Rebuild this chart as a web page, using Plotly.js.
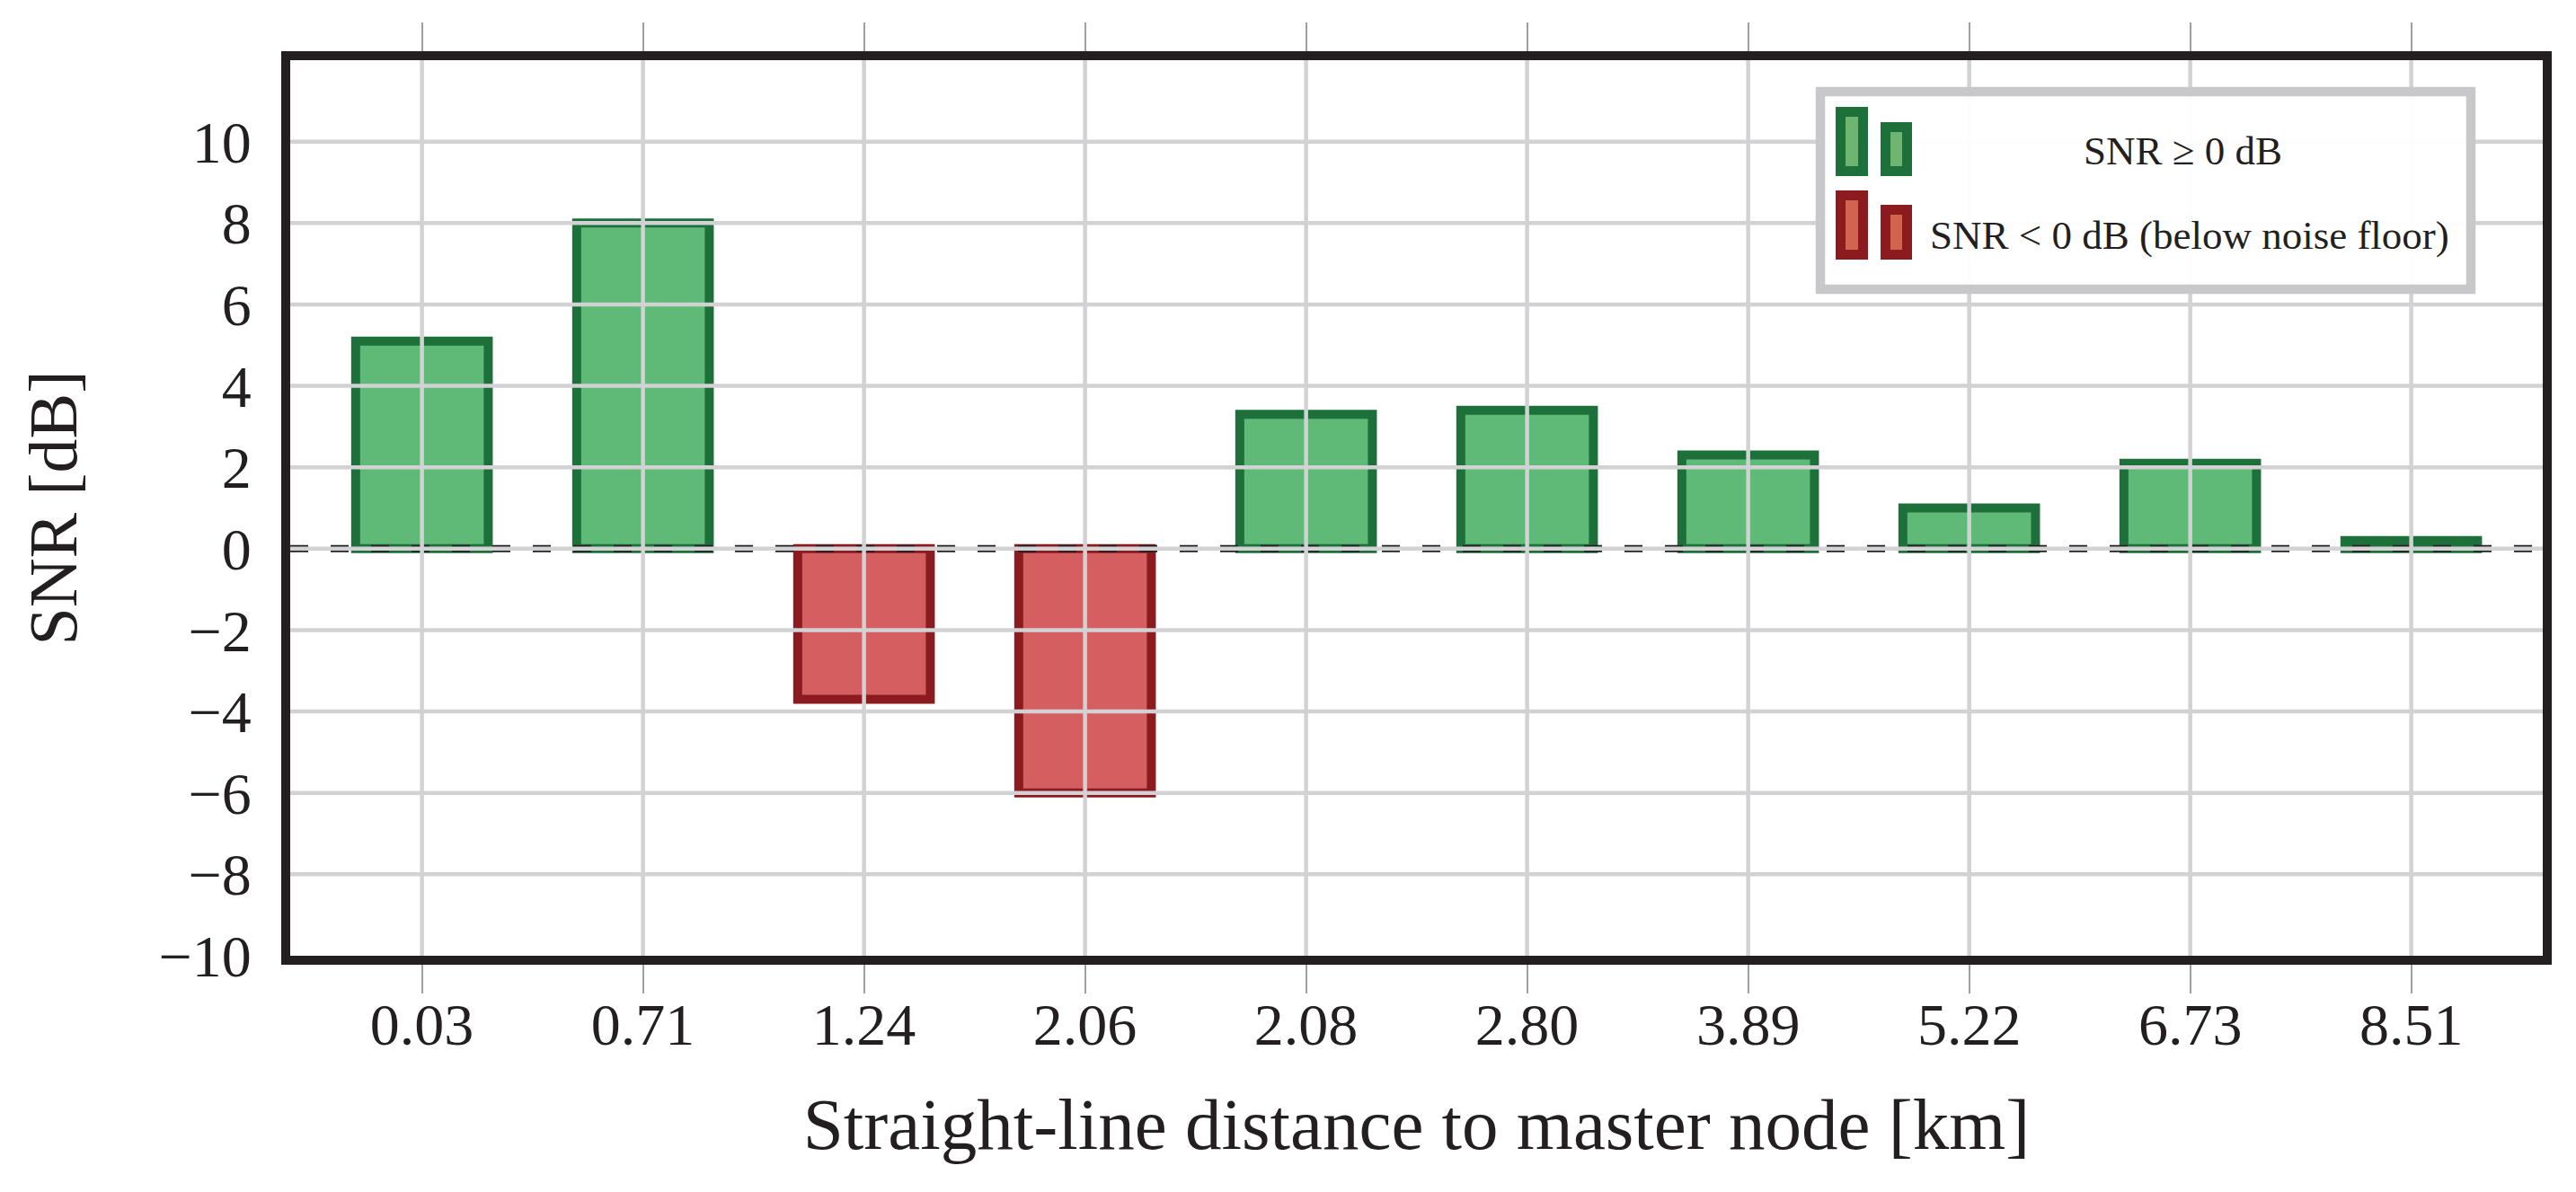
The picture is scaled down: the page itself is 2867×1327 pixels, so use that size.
<!DOCTYPE html>
<html>
<head>
<meta charset="utf-8">
<script src="https://cdn.plot.ly/plotly-3.0.1.min.js"></script>
<style>
  body { margin: 0; background: white; }
  #myChart { width: 2867px; height: 1327px; }
</style>
</head>
<body>
<div id="myChart"></div>
<script>
// distances to master node (km) and measured SNR (dB)
var distances = ['0.03', '0.71', '1.24', '2.06', '2.08', '2.80', '3.89', '5.22', '6.73', '8.51'];
var snr = [5.1, 8.0, -3.7, -6.0, 3.3, 3.4, 2.3, 1.0, 2.1, 0.2];
var yTicks = [-10, -8, -6, -4, -2, 0, 2, 4, 6, 8, 10];
var legendLabels = ['SNR \u2265 0 dB', 'SNR < 0 dB (below noise floor)'];

var W = 2867, H = 1327;
var mar = {l: 323, r: 37, t: 67, b: 263};
var plotW = W - mar.l - mar.r;
var plotH = H - mar.t - mar.b;

var green = '#5eba76', greenEdge = '#1d703a';
var red = '#d55e60', redEdge = '#8c1b20';
var ink = '#231f20';
var gridCol = '#d2d2d4';

// pixel -> paper helpers (for the hand made legend)
function px(x) { return (x - mar.l) / plotW; }
function py(y) { return (H - mar.b - y) / plotH; }

var fills = [], edges = [];
for (var i = 0; i < snr.length; i++) {
    if (snr[i] >= 0) { fills.push(green); edges.push(greenEdge); }
    else { fills.push(red); edges.push(redEdge); }
}

var bars = {
    x: distances,
    y: snr,
    type: 'bar',
    width: 0.6,
    marker: {color: fills, line: {color: edges, width: 10}},
    hoverinfo: 'x+y',
    showlegend: false
};

var shapes = [];
// dashed zero line, under the grid
shapes.push({type: 'line', xref: 'paper', yref: 'y', x0: 0, x1: 1, y0: 0, y1: 0,
    layer: 'above', line: {color: '#222222', width: 8, dash: '20px,25px'}});
// grid is drawn over the bars like in the original
for (var i = 0; i < distances.length; i++) {
    shapes.push({type: 'line', xref: 'x', yref: 'paper', x0: i, x1: i, y0: 0, y1: 1,
        layer: 'above', line: {color: gridCol, width: 4.5}});
}
for (var j = 0; j < yTicks.length; j++) {
    if (yTicks[j] <= -10) continue;
    shapes.push({type: 'line', xref: 'paper', yref: 'y', x0: 0, x1: 1, y0: yTicks[j], y1: yTicks[j],
        layer: 'above', line: {color: gridCol, width: 4.5}});
}

// legend box
function rectPx(x0, y0, x1, y1, fill, edge, lw) {
    return {type: 'rect', xref: 'paper', yref: 'paper', layer: 'above',
        x0: px(x0), x1: px(x1), y0: py(y1), y1: py(y0),
        fillcolor: fill, line: {color: edge, width: lw}};
}
shapes.push(rectPx(2026, 102, 2750, 322, 'rgba(255,255,255,0.95)', '#c8c8cb', 10.5));
shapes.push(rectPx(2048.5, 124.5, 2073.5, 190.5, '#6db570', greenEdge, 11));
shapes.push(rectPx(2098.5, 141.5, 2122.5, 190.5, '#6db570', greenEdge, 11));
shapes.push(rectPx(2048.5, 217.5, 2073.5, 283.5, '#d2644f', redEdge, 11));
shapes.push(rectPx(2098.5, 233.5, 2122.5, 283.5, '#d2644f', redEdge, 11));

var annotations = [
    {xref: 'paper', yref: 'paper', x: px(2429), y: py(168), text: legendLabels[0],
     showarrow: false, xanchor: 'center', yanchor: 'middle',
     font: {family: 'Liberation Serif', size: 45, color: ink}},
    {xref: 'paper', yref: 'paper', x: px(2146), y: py(262), text: legendLabels[1],
     showarrow: false, xanchor: 'left', yanchor: 'middle',
     font: {family: 'Liberation Serif', size: 45, color: ink}}
];

var layout = {
    width: W,
    height: H,
    margin: mar,
    paper_bgcolor: 'white',
    plot_bgcolor: 'white',
    font: {family: 'Liberation Serif', color: ink},
    showlegend: false,
    xaxis: {
        type: 'category',
        range: [-0.596, 9.595],
        showgrid: false,
        zeroline: false,
        showline: true,
        linewidth: 10,
        linecolor: ink,
        mirror: 'ticks',
        ticks: 'outside',
        ticklen: 32,
        tickwidth: 2,
        tickcolor: '#a0a0a0',
        tickfont: {size: 66, color: ink},
        ticklabelstandoff: -22,
        title: {text: 'Straight-line distance to master node [km]', standoff: 50,
                font: {size: 81, color: ink}}
    },
    yaxis: {
        range: [-10, 12],
        tickvals: yTicks,
        showgrid: false,
        zeroline: false,
        showline: true,
        linewidth: 10,
        linecolor: ink,
        mirror: 'ticks',
        ticks: 'inside',
        ticklen: 40,
        tickwidth: 3,
        tickcolor: '#999999',
        tickfont: {size: 66, color: ink},
        ticklabelstandoff: 20,
        title: {text: 'SNR [dB]', standoff: 70, font: {size: 76, color: ink}}
    },
    shapes: shapes,
    annotations: annotations
};

Plotly.newPlot('myChart', [bars], layout, {displayModeBar: false, staticPlot: true});
</script>
</body>
</html>
